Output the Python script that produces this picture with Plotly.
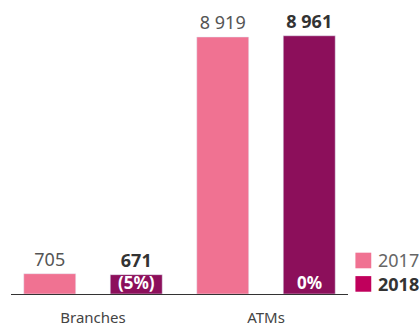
import plotly.graph_objects as go

categories = ["Branches", "ATMs"]
values_2017 = [705, 8919]
values_2018 = [671, 8961]
labels_2017 = ["705", "8 919"]
labels_2018 = ["671", "8 961"]
change_labels = ["(5%)", "0%"]
series_names = ["2017", "2018"]

c2017 = "#F07292"
c2018 = "#8C0F5B"
c2018_legend = "#C0005C"
FONT = "Noto Sans"

fig = go.Figure()
fig.add_bar(x=categories, y=values_2017, name=series_names[0], marker_color=c2017,
            text=labels_2017, textposition="outside",
            textfont=dict(family=FONT, size=18, color="#555555"), cliponaxis=False)
fig.add_bar(x=categories, y=values_2018, name=series_names[1], marker_color=c2018,
            text=labels_2018, textposition="outside",
            textfont=dict(family=FONT, size=18, color="#333333", weight="bold"), cliponaxis=False)

for cat, lab in zip(categories, change_labels):
    fig.add_annotation(x=cat, y=0, text=lab, xref="x", yref="y", xshift=43, yshift=-1,
                       yanchor="bottom", showarrow=False, borderpad=0,
                       font=dict(family=FONT, size=17, color="white", weight="bold"))

# manual legend
leg = [(series_names[0], c2017, "#666666", "normal", 0.0905),
       (series_names[1], c2018_legend, "#333333", "bold", 0.008)]
for name, col, tcol, w, yy in leg:
    fig.add_shape(type="rect", xref="paper", yref="paper",
                  x0=1.022, x1=1.069, y0=yy, y1=yy + 0.055,
                  fillcolor=col, line_width=0)
    fig.add_annotation(x=1.082, y=yy + 0.0275, xref="paper", yref="paper", text=name,
                       xanchor="left", yanchor="middle", showarrow=False,
                       font=dict(family=FONT, size=18, color=tcol, weight=w))

fig.update_layout(
    width=420, height=329,
    margin=dict(l=11, r=72, t=10, b=35),
    paper_bgcolor="white", plot_bgcolor="white",
    barmode="group", bargap=0.0, bargroupgap=0.399,
    showlegend=False,
    font=dict(family=FONT),
    xaxis=dict(range=[-0.474, 1.474], showline=True, linecolor="#333333", linewidth=1,
               ticks="", ticklabelstandoff=10, automargin=False,
               tickfont=dict(family=FONT, size=15, color="#444444")),
    yaxis=dict(range=[0, 9855], visible=False, automargin=False),
)

fig.write_html("out.html")
